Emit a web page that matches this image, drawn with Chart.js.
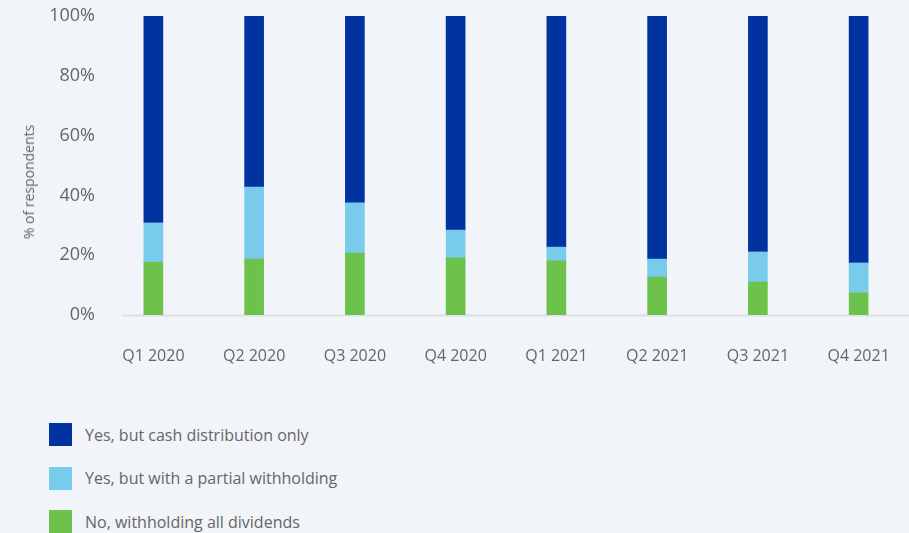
<!DOCTYPE html>
<html>
<head>
<meta charset="utf-8">
<script src="https://cdn.jsdelivr.net/npm/chart.js@4"></script>
<style>
  html, body { margin: 0; padding: 0; background: #f1f4f8; }
  body { width: 909px; height: 533px; position: relative; overflow: hidden; font-family: "Open Sans", sans-serif; }
  #wrap { position: absolute; left: 0; top: 0; width: 909px; height: 380px; }
  #ytitle { position: absolute; left: 28.5px; top: 181.5px; transform: translate(-50%, -50%) rotate(-90deg);
            font-size: 14px; color: #666; white-space: nowrap; line-height: 1; }
  #legend { position: absolute; left: 49px; top: 423px; margin: 0; padding: 0; list-style: none; }
  #legend li { display: flex; align-items: center; height: 23px; margin-bottom: 20.5px; }
  #legend .sw { width: 23px; height: 23px; margin-right: 13px; flex: none; }
  #legend .tx { font-size: 16px; color: #666; white-space: nowrap; }
</style>
</head>
<body>
<div id="wrap"><canvas id="c"></canvas></div>
<div id="ytitle">% of respondents</div>
<ul id="legend"></ul>
<script>
// Quarters surveyed
const quarters = ["Q1 2020", "Q2 2020", "Q3 2020", "Q4 2020", "Q1 2021", "Q2 2021", "Q3 2021", "Q4 2021"];

// Share of respondents (%) per answer
const withholdingAll = [17.7, 18.7, 20.7, 19.1, 18.1, 12.7, 11.0, 7.4];
const partialWithholding = [13.1, 24.1, 16.8, 9.3, 4.6, 6.0, 10.1, 10.0];
const cashOnly = [69.2, 57.2, 62.5, 71.6, 77.3, 81.3, 78.9, 82.6];

const yTicks = [0, 20, 40, 60, 80, 100];

const seriesNames = {
  cash: "Yes, but cash distribution only",
  partial: "Yes, but with a partial withholding",
  none: "No, withholding all dividends"
};

const colors = { cash: "#0033a0", partial: "#78cbea", none: "#6cc24a" };

// light baseline under the bars
const baseline = {
  id: "baseline",
  beforeDatasetsDraw(chart) {
    const { ctx, chartArea, scales } = chart;
    const y = Math.round(scales.y.getPixelForValue(0)) + 0.5;
    ctx.save();
    ctx.strokeStyle = "#dcdfe3";
    ctx.lineWidth = 2;
    ctx.beginPath();
    ctx.moveTo(chartArea.left + 20, y);
    ctx.lineTo(chartArea.right, y);
    ctx.stroke();
    ctx.restore();
  }
};

const chart = new Chart(document.getElementById("c"), {
  type: "bar",
  data: {
    labels: quarters,
    datasets: [
      { label: seriesNames.none, data: withholdingAll, backgroundColor: colors.none },
      { label: seriesNames.partial, data: partialWithholding, backgroundColor: colors.partial },
      { label: seriesNames.cash, data: cashOnly, backgroundColor: colors.cash }
    ]
  },
  options: {
    responsive: true,
    maintainAspectRatio: false,
    animation: false,
    layout: { padding: { top: 16, right: 0, left: 0, bottom: 0 } },
    plugins: { legend: { display: false }, tooltip: { enabled: false } },
    datasets: { bar: { barThickness: 19, borderWidth: 0 } },
    scales: {
      x: {
        stacked: true,
        grid: { display: false, drawTicks: false },
        border: { display: false },
        ticks: { color: "#666", font: { family: "Open Sans", size: 16 }, padding: 32, maxRotation: 0 },
        afterFit(scale) {
          scale.height = 65;
          scale.paddingLeft = 0;
          scale.paddingRight = 0;
        }
      },
      y: {
        stacked: true,
        min: 0,
        max: 100,
        afterBuildTicks(scale) { scale.ticks = yTicks.map(v => ({ value: v })); },
        grid: { display: false, drawTicks: false },
        border: { display: false },
        ticks: {
          color: "#666",
          font: { family: "Open Sans", size: 18 },
          padding: 8,
          callback: v => v + "%"
        },
        afterFit(scale) {
          scale.width = 103;
          scale.paddingTop = 0;
          scale.paddingBottom = 0;
        }
      }
    }
  },
  plugins: [baseline]
});

// legend listing the top segment first
const legend = document.getElementById("legend");
chart.data.datasets.slice().reverse().forEach(ds => {
  const li = document.createElement("li");
  const sw = document.createElement("span");
  sw.className = "sw";
  sw.style.background = ds.backgroundColor;
  const tx = document.createElement("span");
  tx.className = "tx";
  tx.textContent = ds.label;
  li.appendChild(sw);
  li.appendChild(tx);
  legend.appendChild(li);
});
</script>
</body>
</html>
